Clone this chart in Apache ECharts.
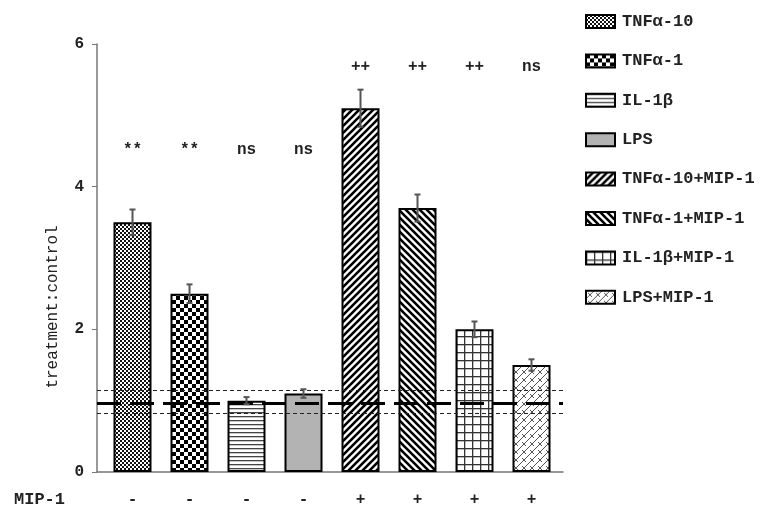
<!DOCTYPE html>
<html>
<head>
<meta charset="utf-8">
<script src="https://cdn.jsdelivr.net/npm/echarts@6/dist/echarts.min.js"></script>
<style>
  html, body { margin: 0; padding: 0; background: #fff; }
  #chart { width: 766px; height: 521px; }
</style>
</head>
<body>
<div id="chart"></div>
<script>
// data
const groups = ['TNFα-10', 'TNFα-1', 'IL-1β', 'LPS', 'TNFα-10+MIP-1', 'TNFα-1+MIP-1', 'IL-1β+MIP-1', 'LPS+MIP-1'];
const mipLabels = ['-', '-', '-', '-', '+', '+', '+', '+'];
const means = [3.5, 2.5, 1.0, 1.1, 5.1, 3.7, 2.0, 1.5];
const errors = [0.18, 0.13, 0.05, 0.06, 0.26, 0.19, 0.11, 0.08];
const sigMarks = ['**', '**', 'ns', 'ns', '++', '++', '++', 'ns'];
const sigLevels = [4.52, 4.52, 4.52, 4.52, 5.68, 5.68, 5.68, 5.68];
const controlMean = 0.97;
const controlBand = [0.83, 1.14];
const yTicks = [0, 2, 4, 6];

const FONT = '"Liberation Mono", "DejaVu Sans Mono", monospace';

function pattern(w, h, draw) {
  const c = document.createElement('canvas');
  c.width = w; c.height = h;
  const ctx = c.getContext('2d');
  ctx.fillStyle = '#fff';
  ctx.fillRect(0, 0, w, h);
  draw(ctx);
  return { image: c, repeat: 'repeat' };
}

function checker(size, dark) {
  return pattern(size * 2, size * 2, ctx => {
    ctx.fillStyle = dark;
    ctx.fillRect(0, 0, size, size);
    ctx.fillRect(size, size, size, size);
  });
}

function diag(p, up) {
  return pattern(p, p, ctx => {
    ctx.strokeStyle = '#000';
    ctx.lineWidth = 2.6;
    ctx.beginPath();
    if (up) {
      ctx.moveTo(-p, p * 2); ctx.lineTo(p * 2, -p);
      ctx.moveTo(-p, p); ctx.lineTo(p, -p);
      ctx.moveTo(0, p * 2); ctx.lineTo(p * 2, 0);
    } else {
      ctx.moveTo(-p, -p); ctx.lineTo(p * 2, p * 2);
      ctx.moveTo(-p, 0); ctx.lineTo(p, p * 2);
      ctx.moveTo(0, -p); ctx.lineTo(p * 2, p);
    }
    ctx.stroke();
  });
}

const fills = [
  checker(2, '#111'),
  checker(4, '#000'),
  pattern(4, 4, ctx => { ctx.fillStyle = '#444'; ctx.fillRect(0, 0, 4, 1.3); }),
  '#b3b3b3',
  diag(7, true),
  diag(7, false),
  pattern(8, 8, ctx => {
    ctx.fillStyle = '#333';
    ctx.fillRect(0, 0, 8, 1.3);
    ctx.fillRect(0, 0, 1.3, 8);
  }),
  pattern(8, 8, ctx => {
    ctx.strokeStyle = '#555';
    ctx.lineWidth = 1;
    ctx.beginPath();
    ctx.moveTo(0, 8); ctx.lineTo(8, 0);
    ctx.moveTo(-4, 4); ctx.lineTo(4, -4);
    ctx.moveTo(4, 12); ctx.lineTo(12, 4);
    ctx.moveTo(2, 2); ctx.lineTo(6, 6);
    ctx.stroke();
  })
];

const barSeries = groups.map((name, i) => ({
  name,
  type: 'bar',
  xAxisIndex: 0,
  yAxisIndex: 0,
  barWidth: 38,
  barGap: '-100%',
  z: 3,
  data: means.map((v, j) => (j === i ? v : '-')),
  itemStyle: { color: fills[i], borderColor: '#000', borderWidth: 2 }
}));

const chart = echarts.init(document.getElementById('chart'));
chart.setOption({
  animation: false,
  backgroundColor: '#fff',
  textStyle: { fontFamily: FONT },
  grid: [
    { left: 104, right: 206, top: 44, bottom: 49 },
    { left: 97, right: 203, top: 44, bottom: 49 }
  ],
  legend: {
    orient: 'vertical',
    left: 580,
    top: 8,
    itemWidth: 29,
    itemHeight: 13,
    itemGap: 22.4,
    icon: 'rect',
    data: groups,
    textStyle: { fontFamily: FONT, fontWeight: 'bold', fontSize: 17, color: '#222', padding: [0, 0, 0, 2] }
  },
  graphic: [
    {
      type: 'text',
      left: 14,
      top: 491,
      style: { text: 'MIP-1', font: 'bold 17px ' + FONT, fill: '#222' }
    },
    {
      type: 'text',
      x: 53,
      y: 307,
      rotation: Math.PI / 2,
      style: {
        text: 'treatment:control',
        font: '16px ' + FONT,
        fill: '#222',
        textAlign: 'center',
        textVerticalAlign: 'middle'
      }
    }
  ],
  xAxis: [
    {
      type: 'category',
      gridIndex: 0,
      data: mipLabels,
      axisLine: { show: false },
      axisTick: { show: false },
      axisLabel: { margin: 20, fontFamily: FONT, fontWeight: 'bold', fontSize: 16, color: '#222' }
    },
    {
      type: 'value',
      gridIndex: 1,
      min: 0,
      max: 1,
      axisLine: { show: true, lineStyle: { color: '#777', width: 1.5 } },
      axisTick: { show: false },
      axisLabel: { show: false },
      splitLine: { show: false }
    }
  ],
  yAxis: [
    { type: 'value', gridIndex: 0, min: 0, max: 6, interval: 2, show: false },
    {
      type: 'value',
      gridIndex: 1,
      min: 0,
      max: 6,
      interval: 2,
      axisLine: { show: true, lineStyle: { color: '#777', width: 1.5 } },
      axisTick: { show: true, length: 5, lineStyle: { color: '#777' } },
      axisLabel: {
        margin: 13,
        fontFamily: FONT,
        fontWeight: 'bold',
        fontSize: 16,
        color: '#222',
        formatter: v => (yTicks.indexOf(v) >= 0 ? String(v) : '')
      },
      splitLine: { show: false }
    }
  ],
  series: [
    {
      type: 'line',
      xAxisIndex: 1,
      yAxisIndex: 1,
      data: [],
      z: 1,
      markLine: {
        silent: true,
        symbol: 'none',
        label: { show: false },
        data: [
          { yAxis: controlMean, lineStyle: { color: '#000', width: 3, type: [24, 9] } },
          { yAxis: controlBand[0], lineStyle: { color: '#222', width: 1, type: [4, 3] } },
          { yAxis: controlBand[1], lineStyle: { color: '#222', width: 1, type: [4, 3] } }
        ]
      }
    },
    ...barSeries,
    {
      type: 'custom',
      name: 'err',
      xAxisIndex: 0,
      yAxisIndex: 0,
      z: 5,
      data: means.map((m, i) => [i, m - errors[i], m + errors[i]]),
      renderItem: (params, api) => {
        const lo = api.coord([api.value(0), api.value(1)]);
        const hi = api.coord([api.value(0), api.value(2)]);
        const hw = 3;
        const st = { stroke: '#555', lineWidth: 2 };
        return {
          type: 'group',
          children: [
            { type: 'line', shape: { x1: lo[0], y1: lo[1], x2: hi[0], y2: hi[1] }, style: st },
            { type: 'line', shape: { x1: hi[0] - hw, y1: hi[1], x2: hi[0] + hw, y2: hi[1] }, style: st },
            { type: 'line', shape: { x1: lo[0] - hw, y1: lo[1], x2: lo[0] + hw, y2: lo[1] }, style: st }
          ]
        };
      }
    },
    {
      type: 'custom',
      name: 'sig',
      xAxisIndex: 0,
      yAxisIndex: 0,
      z: 5,
      data: sigMarks.map((s, i) => [i, sigLevels[i], s]),
      renderItem: (params, api) => {
        const p = api.coord([api.value(0), api.value(1)]);
        return {
          type: 'text',
          x: p[0],
          y: p[1],
          style: {
            text: sigMarks[params.dataIndex],
            font: 'bold 16px ' + FONT,
            fill: '#222',
            textAlign: 'center',
            textVerticalAlign: 'middle'
          }
        };
      }
    }
  ]
});
</script>
</body>
</html>
